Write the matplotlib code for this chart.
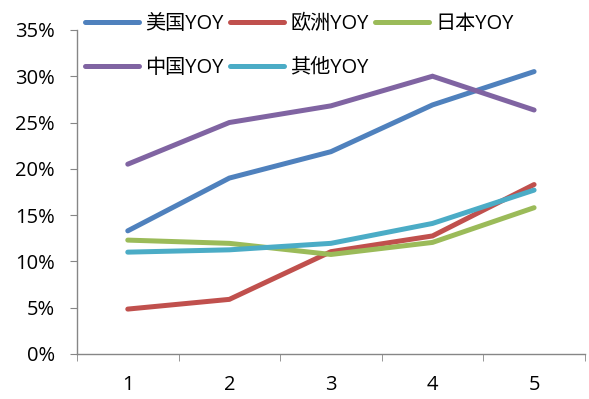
import matplotlib
matplotlib.use("Agg")
import matplotlib.pyplot as plt
from matplotlib.ticker import FuncFormatter, FixedLocator

plt.rcParams['font.family'] = ['Open Sans', 'Noto Sans CJK SC', 'DejaVu Sans']

# ---- data
periods = [1, 2, 3, 4, 5]
us_yoy = [13.3, 19.0, 21.85, 26.9, 30.5]
eu_yoy = [4.85, 5.9, 11.05, 12.75, 18.3]
jp_yoy = [12.3, 11.95, 10.75, 12.05, 15.8]
cn_yoy = [20.5, 25.0, 26.8, 30.0, 26.35]
other_yoy = [11.0, 11.25, 11.95, 14.1, 17.7]

series = [
    ("美国YOY", us_yoy, "#4F81BD"),
    ("欧洲YOY", eu_yoy, "#C0504D"),
    ("日本YOY", jp_yoy, "#9BBB59"),
    ("中国YOY", cn_yoy, "#8064A2"),
    ("其他YOY", other_yoy, "#4BACC6"),
]

fig = plt.figure(figsize=(5.89, 3.99), dpi=100)
ax = fig.add_axes([0.1307, 0.1128, 0.8623, 0.8122])

lines = {}
for name, vals, col in series:
    ln, = ax.plot(periods, vals, color=col, lw=3.6, solid_capstyle="round",
                  solid_joinstyle="miter", label=name)
    lines[name] = ln

ax.set_xlim(0.5, 5.5)
ax.set_ylim(0, 35)
ax.set_yticks(range(0, 36, 5))
ax.yaxis.set_major_formatter(FuncFormatter(lambda v, _: f"{v:.0f}%"))
ax.set_xticks(periods)
ax.xaxis.set_minor_locator(FixedLocator([0.5, 1.5, 2.5, 3.5, 4.5, 5.5]))

axis_gray = "#868686"
for s in ("top", "right"):
    ax.spines[s].set_visible(False)
for s in ("left", "bottom"):
    ax.spines[s].set_color(axis_gray)
    ax.spines[s].set_linewidth(1.0)

ax.tick_params(axis="y", which="major", direction="out", length=5,
               color=axis_gray, labelsize=14.5, pad=11, labelcolor="#000000")
ax.tick_params(axis="x", which="major", length=0, labelsize=14.5, pad=15,
               labelcolor="#000000")
ax.tick_params(axis="x", which="minor", direction="out", length=5,
               color=axis_gray)

# legend: two rows, column-major fill
order = ["美国YOY", "中国YOY", "欧洲YOY", "其他YOY", "日本YOY"]
ax.legend([lines[n] for n in order], order, ncol=3, frameon=False,
          loc="upper left", bbox_to_anchor=(0.0, 1.075), fontsize=14.5,
          handlelength=2.7, handletextpad=0.3, columnspacing=0.3,
          labelspacing=1.2, borderaxespad=0)

fig.savefig("out.png", dpi=100)
